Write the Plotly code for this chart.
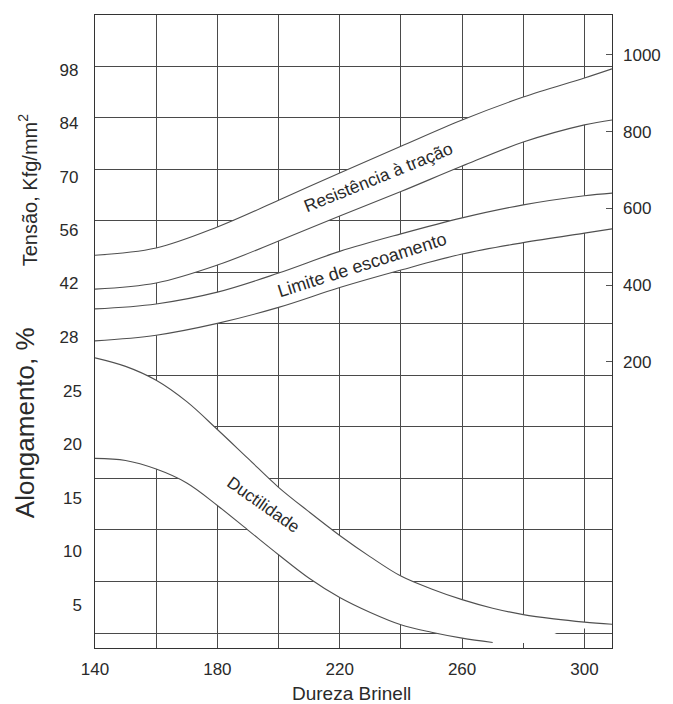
import plotly.graph_objects as go

# ---------------- data ----------------
HB_STRENGTH = [140, 160, 180, 200, 220, 240, 260, 280, 300, 309]
TRACAO_SUP = [49.4, 51.3, 56.8, 63.8, 71.0, 78.0, 84.9, 90.9, 95.9, 98.3]
TRACAO_INF = [40.5, 42.1, 46.8, 53.1, 59.7, 66.1, 72.8, 79.1, 83.6, 84.9]
ESCOAM_SUP = [35.3, 36.6, 39.7, 44.7, 50.4, 55.0, 59.2, 62.6, 65.0, 65.7]
ESCOAM_INF = [26.9, 28.4, 31.5, 35.7, 40.9, 45.5, 49.7, 52.7, 55.2, 56.3]

HB_DUCT_SUP = [140, 150, 160, 170, 180, 190, 200, 210, 220, 230, 240, 250, 260, 270, 280, 290, 300, 309]
DUCT_SUP = [28.1, 27.3, 26.0, 24.0, 21.4, 18.7, 16.0, 13.7, 11.5, 9.5, 7.7, 6.5, 5.5, 4.7, 4.1, 3.7, 3.4, 3.2]
HB_DUCT_INF = [140, 150, 160, 170, 180, 190, 200, 210, 220, 230, 240, 250, 260, 270]
DUCT_INF = [18.7, 18.5, 17.7, 16.4, 14.3, 12.0, 9.7, 7.5, 5.7, 4.3, 3.15, 2.45, 1.9, 1.5]
# white area of the ductility band continuing past the end of its lower line
HB_DUCT_EDGE = [280, 287, 293, 300, 309]
DUCT_EDGE = [1.45, 1.9, 2.6, 2.8, 2.95]

HB_TICKS = [140, 180, 220, 260, 300]
HB_MINOR = [160, 200, 240, 280]
TENSAO_TICKS = [28, 42, 56, 70, 84, 98]
ALONG_TICKS = [5, 10, 15, 20, 25]
MPA_TICKS = [200, 400, 600, 800, 1000]
GRID_ROWS = list(range(12))

# ---------------- styling ----------------
FONT = "Liberation Sans, Arial, Helvetica, sans-serif"
INK = "#2a2a2a"
GRID = "#4a4a4a"
CURVE = "#505050"

fig = go.Figure()


def band(x_lo, y_lo, x_hi, y_hi, yaxis):
    fig.add_trace(go.Scatter(x=x_lo, y=y_lo, yaxis=yaxis, mode="lines",
                             line=dict(width=0, shape="spline", color="white"),
                             hoverinfo="skip", showlegend=False))
    fig.add_trace(go.Scatter(x=x_hi, y=y_hi, yaxis=yaxis, mode="lines",
                             line=dict(width=0, shape="spline", color="white"),
                             fill="tonexty", fillcolor="white",
                             hoverinfo="skip", showlegend=False))


def curve(x, y, yaxis):
    fig.add_trace(go.Scatter(x=x, y=y, yaxis=yaxis, mode="lines",
                             line=dict(width=1.1, shape="spline", color=CURVE),
                             hoverinfo="skip", showlegend=False))


def anchor_axis(yaxis, yval):
    # invisible point so that the overlaying axis gets drawn
    fig.add_trace(go.Scatter(x=[150], y=[yval], yaxis=yaxis, mode="markers",
                             marker=dict(opacity=0, size=1),
                             hoverinfo="skip", showlegend=False))


# strength bands (base axis y = Tensão)
band(HB_STRENGTH, TRACAO_INF, HB_STRENGTH, TRACAO_SUP, "y")
band(HB_STRENGTH, ESCOAM_INF, HB_STRENGTH, ESCOAM_SUP, "y")
curve(HB_STRENGTH, TRACAO_SUP, "y")
curve(HB_STRENGTH, TRACAO_INF, "y")
curve(HB_STRENGTH, ESCOAM_SUP, "y")
curve(HB_STRENGTH, ESCOAM_INF, "y")

# grid axis and right axis need a trace to be drawn
anchor_axis("y2", 5)
anchor_axis("y4", 0)

# ductility band (Alongamento axis)
band(HB_DUCT_INF + HB_DUCT_EDGE, DUCT_INF + DUCT_EDGE, HB_DUCT_SUP, DUCT_SUP, "y3")
curve(HB_DUCT_SUP, DUCT_SUP, "y3")
curve(HB_DUCT_INF, DUCT_INF, "y3")

tickfont = dict(family=FONT, size=17, color=INK)

fig.update_layout(
    width=673, height=704,
    margin=dict(l=95, r=61, t=15, b=56, pad=0),
    paper_bgcolor="white", plot_bgcolor="white",
    font=dict(family=FONT, color=INK),
    showlegend=False,
    xaxis=dict(range=[140, 309], tickvals=HB_TICKS,
               showgrid=True, gridcolor=GRID, gridwidth=1,
               minor=dict(tickvals=HB_MINOR, showgrid=True, gridcolor=GRID,
                          gridwidth=1, ticks=""),
               showline=True, mirror=True, linecolor="#333333", linewidth=1.2,
               zeroline=False, ticks="", ticklabelstandoff=5, tickfont=tickfont),
    yaxis=dict(range=[-53.7, 112.44], tickvals=TENSAO_TICKS,
               showgrid=False, zeroline=False,
               showline=True, mirror=True, linecolor="#333333", linewidth=1.2,
               ticks="", ticklabelstandoff=12, tickfont=tickfont),
    yaxis2=dict(overlaying="y", side="left", range=[-0.291, 11.996],
                tickvals=GRID_ROWS, showticklabels=False,
                showgrid=True, gridcolor=GRID, gridwidth=1,
                zeroline=False, showline=False, ticks=""),
    yaxis3=dict(overlaying="y", side="left", range=[0.98, 60.14],
                tickvals=ALONG_TICKS, showgrid=False, zeroline=False,
                showline=False, ticks="", ticklabelstandoff=12, tickfont=tickfont),
    yaxis4=dict(overlaying="y", side="right", range=[-544.8, 1103.6],
                tickvals=MPA_TICKS, showgrid=False, zeroline=False,
                showline=False, ticks="inside", ticklen=6, tickcolor="#555555",
                ticklabelstandoff=10, tickfont=tickfont),
)

fig.add_annotation(text="Resistência à tração", x=232.8, y=69.9, xref="x", yref="y",
                   textangle=-22, showarrow=False,
                   font=dict(family=FONT, size=17.5, color=INK))
fig.add_annotation(text="Limite de escoamento", x=227.4, y=46.8, xref="x", yref="y",
                   textangle=-17.7, showarrow=False,
                   font=dict(family=FONT, size=18, color=INK))
fig.add_annotation(text="Ductilidade", x=194.8, y=14.35, xref="x", yref="y3",
                   textangle=35, showarrow=False,
                   font=dict(family=FONT, size=17, color=INK))

fig.add_annotation(text="Tensão, Kfg/mm<sup>2</sup>", x=-0.131, y=0.7235,
                   xref="paper", yref="paper", textangle=-90, showarrow=False,
                   xanchor="center", yanchor="middle",
                   font=dict(family=FONT, size=20, color=INK))
fig.add_annotation(text="Alongamento, %", x=-0.135, y=0.3555,
                   xref="paper", yref="paper", textangle=-90, showarrow=False,
                   xanchor="center", yanchor="middle",
                   font=dict(family=FONT, size=26, color=INK))
fig.add_annotation(text="Dureza Brinell", x=0.496, y=-0.072,
                   xref="paper", yref="paper", showarrow=False,
                   xanchor="center", yanchor="middle",
                   font=dict(family=FONT, size=19, color=INK))

fig.write_html("out.html",
               config={"displayModeBar": False},
               post_script="document.body.style.margin='0px';"
                           "document.body.style.overflow='hidden';")
